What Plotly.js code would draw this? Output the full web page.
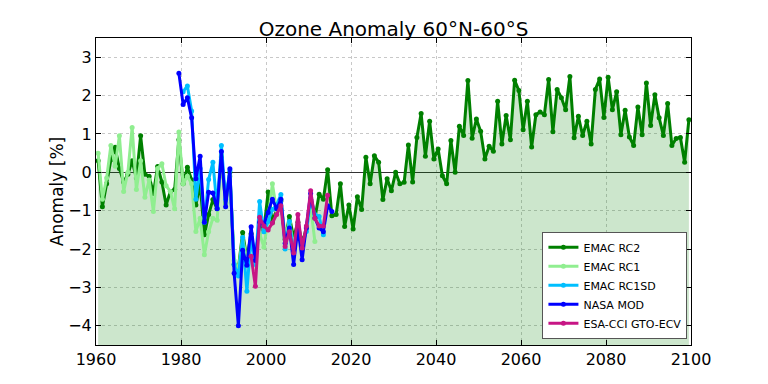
<!DOCTYPE html>
<html>
<head>
<meta charset="utf-8">
<script src="https://cdn.plot.ly/plotly-3.0.1.min.js"></script>
<style>
  html, body { margin: 0; padding: 0; background: #ffffff; }
  #chart { width: 768px; height: 384px; }
</style>
</head>
<body>
<div id="chart"></div>
<script>
// ---- Data (annual mean anomalies in %, plotted at mid-year) ----
const rc2Start = 1960;
const rc2Values = [
  0.3, -0.9, -0.3, 0.33, 0.65, 0.1, -0.25, -0.05, 0.3, -0.15,
  0.95, -0.05, -0.1, -0.55, 0.15, -0.25, -0.85, -0.5, -0.45, 0.85,
  -0.3, 0.13, -0.2, -0.85, -0.3, -1.63, -1.1, -0.71, -0.95, 0.4,
  -0.8, 0.0, -2.4, -2.5, -1.57, -2.25, -1.6, -2.3, -1.3, -1.5,
  -0.51, -1.3, -0.95, -0.75, -1.75, -1.15, -1.7, -1.3, -1.85, -1.45,
  -0.7, -1.2, -0.57, -0.7, 0.07, -1.13, -1.1, -0.3, -1.41, -0.85,
  -1.48, -0.64, -0.97, 0.39, -0.3, 0.43, 0.26, -0.71, -0.17, -0.48,
  0.0, -0.3, -0.26, 0.71, -0.25, 0.91, 1.53, 0.42, 1.33, 0.35,
  0.61, -0.09, -0.3, 0.83, 0.0, 1.2, 0.96, 2.39, 0.89, 1.39,
  1.07, 0.35, 0.68, 0.55, 1.85, 0.74, 1.48, 0.85, 2.4, 2.13,
  1.11, 1.85, 0.66, 1.5, 1.57, 1.5, 2.42, 1.06, 2.16, 1.94,
  1.63, 2.5, 0.9, 1.46, 0.96, 1.33, 0.74, 2.16, 2.43, 1.43,
  2.48, 1.63, 2.1, 0.98, 1.62, 0.92, 0.7, 1.7, 0.98, 2.33,
  1.22, 2.02, 1.42, 0.96, 1.79, 0.7, 0.88, 0.91, 0.26, 1.37
];

const rc1Start = 1960;
const rc1Values = [
  0.5, -0.7, -0.15, 0.7, 0.16, 0.95, -0.5, 0.0, 1.17, -0.45,
  0.3, -0.65, -0.2, -1.02, 0.1, 0.22, -0.35, -0.5, -0.95, 1.05,
  -0.3, -0.1, -0.3, -1.54, -1.2, -2.15, -1.55, -1.2, -1.25, 0.45,
  -0.8, -0.1, -2.3, -2.55, -1.7, -2.3, -1.9, -2.2, -1.6, -1.95,
  -1.2, -0.3, -1.0, -0.7, -1.65, -1.3, -1.9, -1.4, -2.0, -1.5,
  -0.9, -1.8
];

const rc1sdStart = 1980;
const rc1sdValues = [
  2.1, 2.25, 1.6, -0.7, 0.1, -1.3, -0.19, 0.26, -0.93, 0.7,
  -0.7, 0.05, -2.4, -2.7, -1.7, -3.1, -1.7, -2.4, -0.76, -1.55,
  -1.28, -0.97, -0.85, -0.58, -2.0, -1.28, -2.1, -1.37, -1.9, -1.54,
  -0.67, -1.1, -1.15, -1.63
];

const nasaStart = 1979;
const nasaValues = [
  2.58, 1.77, 1.94, 1.42, -0.17, 0.42, -1.3, -0.52, -0.54, -0.95,
  0.54, -0.9, 0.09, -2.63, -4.0, -2.03, -2.42, -1.42, -2.3, -1.3,
  -1.35, -1.05, -0.7, -0.95, -0.7, -1.85, -1.45, -2.4, -1.45, -2.28,
  -1.45, -0.55, -1.19, -1.45, -1.55, -0.87, -1.02
];

const esaStart = 1996;
const esaValues = [
  -2.19, -2.97, -1.17, -1.4, -1.5, -1.32, -1.1, -0.87, -1.93, -1.55,
  -2.1, -1.1, -1.97, -1.4, -0.48, -1.2, -1.4, -1.4, -0.6
];

const seriesNames = ['EMAC RC2', 'EMAC RC1', 'EMAC RC1SD', 'NASA MOD', 'ESA-CCI GTO-ECV'];
const xTickVals = [1960, 1980, 2000, 2020, 2040, 2060, 2080, 2100];
const yTickVals = [-4, -3, -2, -1, 0, 1, 2, 3];
const titleText = 'Ozone Anomaly 60°N-60°S';
const yTitleText = 'Anomaly [%]';

// ---- Helpers ----
function midYears(start, n) {
  const out = [];
  for (let i = 0; i < n; i++) out.push(start + i + 0.5);
  return out;
}

const xRange = [1960, 2100];
const yRange = [-4.5, 3.5];
const font = 'DejaVu Sans, Liberation Sans, sans-serif';

const rc2X = midYears(rc2Start, rc2Values.length);

function lineTrace(name, start, values, color) {
  return {
    type: 'scatter', mode: 'lines+markers', name: name,
    x: midYears(start, values.length), y: values,
    line: { color: color, width: 3 },
    marker: { color: color, size: 5 },
    hoverinfo: 'x+y'
  };
}

const traces = [
  // baseline at the bottom of the y range, used for the area fill
  { type: 'scatter', mode: 'lines', x: rc2X, y: rc2X.map(() => yRange[0]),
    line: { width: 0, color: 'rgba(0,0,0,0)' }, showlegend: false, hoverinfo: 'skip' },
  { type: 'scatter', mode: 'lines', x: rc2X, y: rc2Values, fill: 'tonexty',
    fillcolor: 'rgba(0,128,0,0.2)', line: { width: 0, color: 'rgba(0,0,0,0)' },
    showlegend: false, hoverinfo: 'skip' },
  lineTrace(seriesNames[0], rc2Start, rc2Values, '#008000'),
  lineTrace(seriesNames[1], rc1Start, rc1Values, '#90ee90'),
  lineTrace(seriesNames[2], rc1sdStart, rc1sdValues, '#00bfff'),
  lineTrace(seriesNames[3], nasaStart, nasaValues, '#0000ff'),
  lineTrace(seriesNames[4], esaStart, esaValues, '#c71585')
];

const axisCommon = {
  showline: true, linecolor: '#000000', linewidth: 1, mirror: 'ticks',
  ticks: 'inside', ticklen: 5, tickcolor: '#000000', tickwidth: 1,
  showgrid: true, gridcolor: '#c8c8c8', gridwidth: 1, griddash: 'dot',
  tickfont: { family: font, size: 16, color: '#000000' },
  fixedrange: true
};

const layout = {
  width: 768, height: 384,
  margin: { l: 96, r: 77, t: 38, b: 39, pad: 0 },
  paper_bgcolor: '#ffffff', plot_bgcolor: '#ffffff',
  font: { family: font, color: '#000000' },
  title: {
    text: titleText, font: { family: font, size: 20, color: '#000000' },
    x: (96 + 691) / 2 / 768, xanchor: 'center',
    y: 1 - 29 / 384, yanchor: 'middle', yref: 'container'
  },
  xaxis: Object.assign({}, axisCommon, {
    range: xRange, tickvals: xTickVals, zeroline: false
  }),
  yaxis: Object.assign({}, axisCommon, {
    range: yRange, tickvals: yTickVals,
    zeroline: true, zerolinecolor: '#333333', zerolinewidth: 1,
    title: { text: yTitleText, font: { family: font, size: 17, color: '#000000' }, standoff: 0 }
  }),
  legend: {
    x: 0.994, y: 0.02, xanchor: 'right', yanchor: 'bottom',
    bgcolor: '#ffffff', bordercolor: '#555555', borderwidth: 1,
    font: { family: font, size: 11, color: '#000000' },
    traceorder: 'normal', tracegroupgap: 0
  },
  showlegend: true
};

Plotly.newPlot('chart', traces, layout, { displayModeBar: false, staticPlot: true });
</script>
</body>
</html>
